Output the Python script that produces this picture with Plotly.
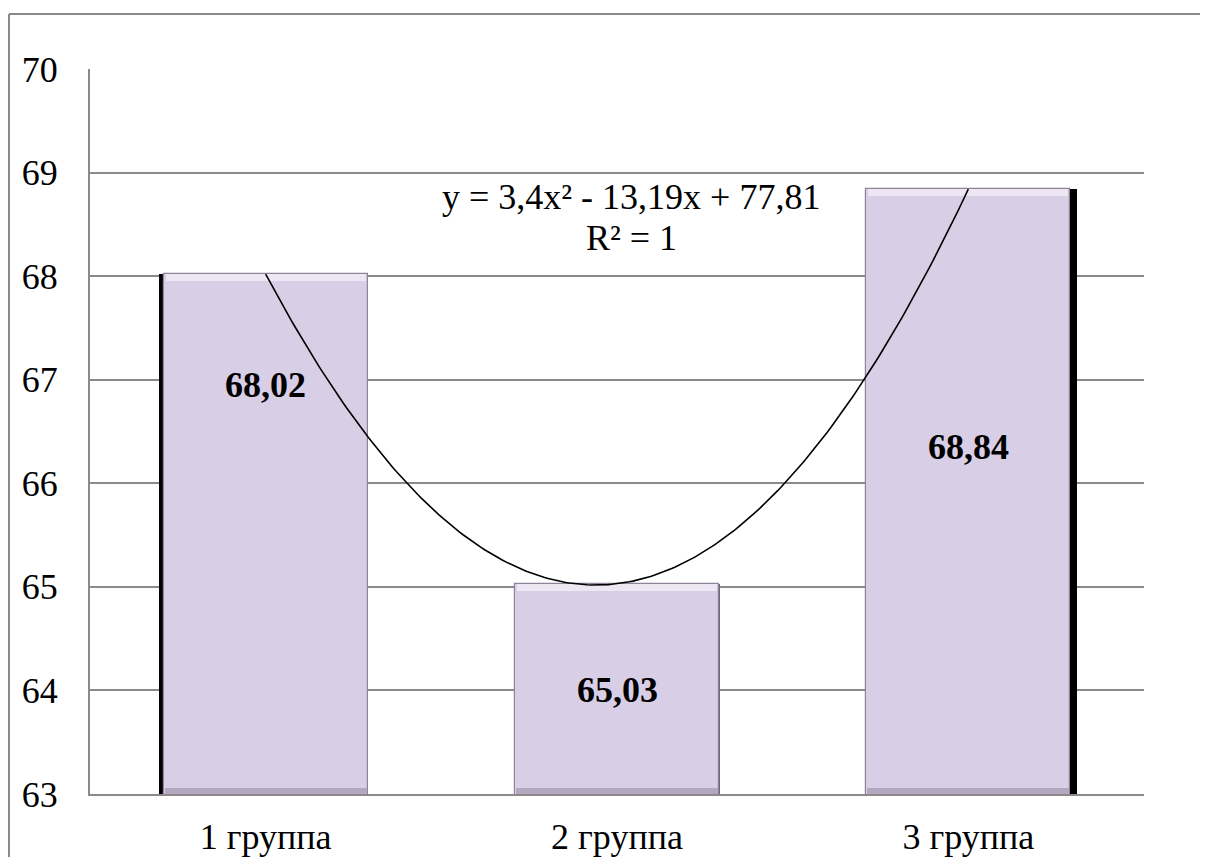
import numpy as np
import plotly.graph_objects as go

# ---- data ----
categories = ["1 группа", "2 группа", "3 группа"]
values = [68.02, 65.03, 68.84]
value_labels = ["68,02", "65,03", "68,84"]
y_ticks = [63, 64, 65, 66, 67, 68, 69, 70]
equation_lines = ["y = 3,4x² - 13,19x + 77,81", "R² = 1"]

# ---- layout constants ----
label_y = [66.95, 64.0, 66.35]          # where the value labels sit
eq_x = 2.04
eq_y = [68.76, 68.37]                   # centres of the two equation lines
x_pos = [1, 2, 3]
PAGE_OFF = 8                            # browser body margin
W, H = 1208 - PAGE_OFF, 857 - PAGE_OFF
L, R, T, B = 90 - PAGE_OFF, 64, 69 - PAGE_OFF, 63
FONT = "'Liberation Serif', 'Times New Roman', serif"
BASE = 63

# polynomial trend through the three points (quadratic, R² = 1)
coef = np.polyfit(x_pos, values, 2)
xt = np.linspace(1, 3, 200)
yt = np.polyval(coef, xt)

fig = go.Figure()

# shadow / edge bars behind the main bars
fig.add_trace(go.Bar(
    x=x_pos, y=values, base=0,
    width=[0.58, 0.584, 0.58], offset=[-0.305, -0.292, -0.271],
    marker=dict(color=["#000000", "#6f6878", "#000000"], line=dict(width=0)),
    hoverinfo="skip", showlegend=False,
))
# main bars
fig.add_trace(go.Bar(
    x=x_pos, y=values,
    width=0.58, offset=-0.29,
    marker=dict(color="#D8CEE6", line=dict(color="#8E8399", width=1.2)),
    showlegend=False,
))
# bevel: light strip on top, darker strip at bottom
hl = 0.07
fig.add_trace(go.Bar(
    x=x_pos, y=[hl] * 3, base=[v - hl for v in values],
    width=0.57, offset=-0.285,
    marker=dict(color="#EDE7F4", line=dict(width=0)),
    hoverinfo="skip", showlegend=False,
))
fig.add_trace(go.Bar(
    x=x_pos, y=[0.06] * 3, base=[BASE] * 3,
    width=0.575, offset=-0.2875,
    marker=dict(color="#B3A8C0", line=dict(width=0)),
    hoverinfo="skip", showlegend=False,
))
# trend line
fig.add_trace(go.Scatter(
    x=xt, y=yt, mode="lines",
    line=dict(color="#000000", width=1.6),
    hoverinfo="skip", showlegend=False,
))

# value labels
for xp, lab, ly in zip(x_pos, value_labels, label_y):
    fig.add_annotation(x=xp, y=ly, text=f"<b>{lab}</b>", showarrow=False,
                       font=dict(family=FONT, size=36, color="#000000"),
                       xanchor="center", yanchor="middle")

# equation (two lines)
for line, ey in zip(equation_lines, eq_y):
    fig.add_annotation(x=eq_x, y=ey, text=line, showarrow=False,
                       font=dict(family=FONT, size=36, color="#000000"),
                       xanchor="center", yanchor="middle")

# outer chart-area border (top and left visible), page coordinates
pw, ph = W - L - R, H - T - B
def px(xp): return (xp - PAGE_OFF - L) / pw
def py(yp): return (H - B - (yp - PAGE_OFF)) / ph
fig.add_shape(type="line", xref="paper", yref="paper",
              x0=px(9), x1=px(1215), y0=py(14), y1=py(14),
              line=dict(color="#8a8a8a", width=2))
fig.add_shape(type="line", xref="paper", yref="paper",
              x0=px(9), x1=px(9), y0=py(14), y1=py(870),
              line=dict(color="#8a8a8a", width=2))

fig.update_layout(
    width=W, height=H,
    margin=dict(l=L, r=R, t=T, b=B, autoexpand=False),
    paper_bgcolor="white", plot_bgcolor="white",
    barmode="overlay", bargap=0,
    font=dict(family=FONT, size=36, color="#000000"),
)
fig.update_xaxes(
    range=[0.5, 3.5], tickvals=x_pos, ticktext=categories,
    showgrid=False, zeroline=False, automargin=False,
    showline=True, linecolor="#8a8a8a", linewidth=2,
    ticks="", ticklabelstandoff=10,
    tickfont=dict(family=FONT, size=36, color="#000000"),
)
fig.update_yaxes(
    range=[63, 70], tickvals=y_ticks,
    showgrid=True, gridcolor="#8a8a8a", gridwidth=1.6,
    zeroline=False, automargin=False,
    showline=True, linecolor="#8a8a8a", linewidth=2,
    ticks="", ticklabelstandoff=23,
    tickfont=dict(family=FONT, size=36, color="#000000"),
)

fig.write_html("out.html")
